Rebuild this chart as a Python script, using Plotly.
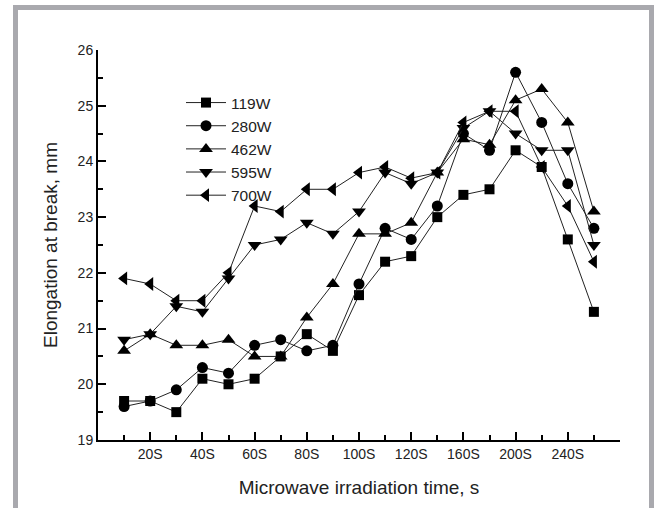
import plotly.graph_objects as go

categories = ["10S", "20S", "30S", "40S", "50S", "60S", "70S", "80S", "90S", "100S",
              "110S", "120S", "140S", "160S", "180S", "200S", "220S", "240S", "260S"]
labeled = ["20S", "40S", "60S", "80S", "100S", "120S", "160S", "200S", "240S"]

w119 = [19.7, 19.7, 19.5, 20.1, 20.0, 20.1, 20.5, 20.9, 20.6, 21.6, 22.2, 22.3, 23.0, 23.4, 23.5, 24.2, 23.9, 22.6, 21.3]
w280 = [19.6, 19.7, 19.9, 20.3, 20.2, 20.7, 20.8, 20.6, 20.7, 21.8, 22.8, 22.6, 23.2, 24.5, 24.2, 25.6, 24.7, 23.6, 22.8]
w462 = [20.6, 20.9, 20.7, 20.7, 20.8, 20.5, 20.5, 21.2, 21.8, 22.7, 22.7, 22.9, 23.8, 24.4, 24.3, 25.1, 25.3, 24.7, 23.1]
w595 = [20.8, 20.9, 21.4, 21.3, 21.9, 22.5, 22.6, 22.9, 22.7, 23.1, 23.8, 23.6, 23.8, 24.6, 24.9, 24.5, 24.2, 24.2, 22.5]
w700 = [21.9, 21.8, 21.5, 21.5, 22.0, 23.2, 23.1, 23.5, 23.5, 23.8, 23.9, 23.7, 23.8, 24.7, 24.9, 24.9, 23.9, 23.2, 22.2]

series = [("119W", w119, "square", 10), ("280W", w280, "circle", 11),
          ("462W", w462, "triangle-up", 12), ("595W", w595, "triangle-down", 12),
          ("700W", w700, "triangle-left", 12)]

xpos = list(range(len(categories)))
FONT = "Liberation Sans, Arial, sans-serif"

fig = go.Figure()
for name, vals, sym, sz in series:
    fig.add_trace(go.Scatter(
        x=xpos, y=vals, name=name, mode="lines+markers",
        line=dict(color="#222222", width=1),
        marker=dict(symbol=sym, size=sz, color="black"),
    ))

major_vals = [categories.index(c) for c in labeled] + [len(categories)]
major_text = labeled + [""]
minor_vals = [i for i in range(len(categories)) if categories[i] not in labeled]

W, H = 654, 508
L, R, T, B = 98, 34, 50, 68
pw, ph = W - L - R, H - T - B
def px(x):
    return (x - L) / pw
def py(y):
    return (H - B - y) / ph

fig.update_layout(
    width=W, height=H,
    margin=dict(l=L, r=R, t=T, b=B, autoexpand=False),
    paper_bgcolor="white", plot_bgcolor="white",
    font=dict(family=FONT, color="#222222", size=14),
    showlegend=True,
    legend=dict(x=px(181), y=py(86), xanchor="left", yanchor="top",
                bgcolor="rgba(0,0,0,0)", font=dict(size=15.5, family=FONT),
                tracegroupgap=0, itemwidth=40),
    xaxis=dict(range=[-1, len(categories)], tickmode="array",
               tickvals=major_vals, ticktext=major_text,
               ticks="inside", ticklen=8, tickwidth=1.5, tickcolor="black",
               minor=dict(tickmode="array", tickvals=minor_vals, ticks="inside",
                          ticklen=5, tickwidth=1.5, tickcolor="black"),
               showline=True, linecolor="black", linewidth=2,
               showgrid=False, zeroline=False,
               tickfont=dict(size=14),
               title=dict(text="Microwave irradiation time, s", font=dict(size=19), standoff=20)),
    yaxis=dict(range=[19, 26], dtick=1, tick0=19,
               ticks="inside", ticklen=8, tickwidth=1.5, tickcolor="black",
               minor=dict(dtick=0.5, ticks="inside", ticklen=5, tickwidth=1.5, tickcolor="black"),
               showline=True, linecolor="black", linewidth=2,
               showgrid=False, zeroline=False,
               tickfont=dict(size=14),
               title=dict(text="Elongation at break, mm", font=dict(size=19), standoff=15)),
    shapes=[dict(type="rect", xref="paper", yref="paper",
                 x0=px(15.5), x1=px(651.5), y0=py(540), y1=py(7.5),
                 line=dict(color="#a9a9ae", width=5), fillcolor="rgba(0,0,0,0)", layer="above")],
)

fig.write_html("out.html", config={"displayModeBar": False},
               post_script="document.body.style.margin='0px';document.body.style.overflow='hidden';")
